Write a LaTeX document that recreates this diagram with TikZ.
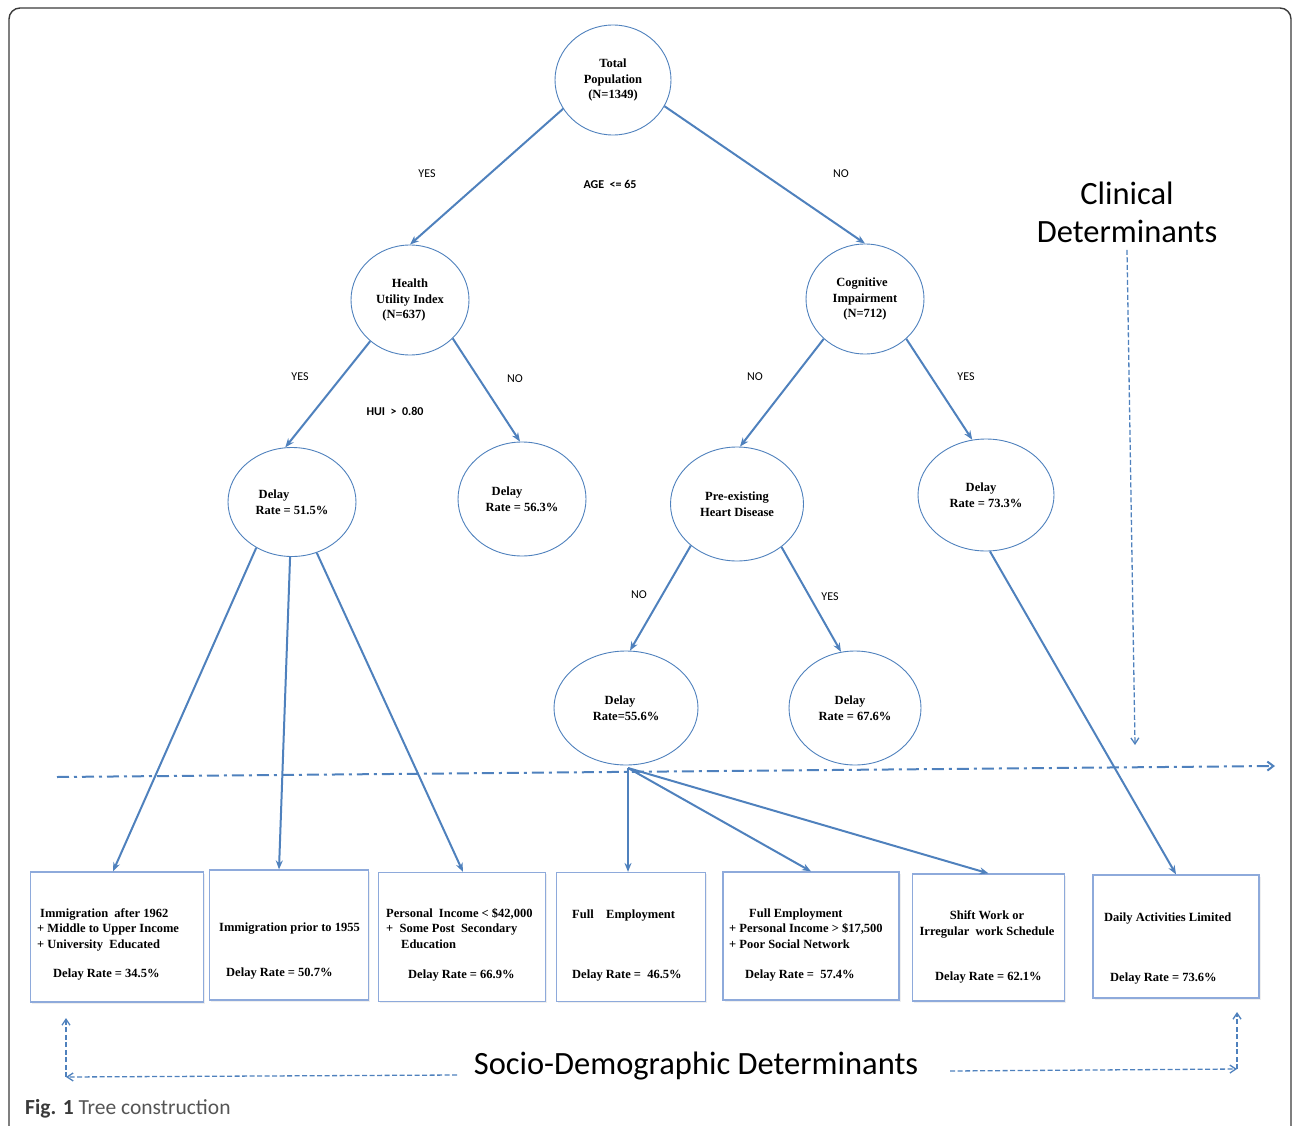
\documentclass[tikz,border=0pt]{standalone}
\usepackage{fontspec}
\usepackage{tikz}
\usetikzlibrary{arrows.meta,shapes.geometric,shadows}
\setmainfont{Liberation Serif}
\newfontfamily\calfont{Carlito}
\definecolor{treeblue}{HTML}{4F81BD}
\definecolor{boxblue}{HTML}{8EAADB}
\definecolor{framegray}{HTML}{3A3A3A}
\definecolor{captiongray}{HTML}{555555}
\tikzset{splitnode/.style={ellipse,draw=treeblue,fill=white,line width=.9pt,inner sep=0pt,
 align=center,font=\fontsize{12.5}{15.5}\selectfont\bfseries},
 sdbox/.style={rectangle,draw=boxblue,fill=white,line width=1.2pt,inner sep=0pt,
 drop shadow={shadow xshift=1.5pt,shadow yshift=-1.5pt,fill=black!12}},
 boxtext/.style={align=left,inner sep=0pt,font=\fontsize{12.5}{15.5}\selectfont\bfseries},
 branch/.style={draw=treeblue,line width=2pt,-{Stealth[length=9pt,width=7pt]}},
 answer/.style={font=\calfont\fontsize{12}{14}\selectfont},
 rule/.style={font=\calfont\bfseries\fontsize{12}{14}\selectfont},
 bigtext/.style={font=\calfont\fontsize{32.5}{38}\selectfont,align=center},
 guide/.style={draw=treeblue,line width=1.3pt,dash pattern=on 5pt off 2.5pt,
 -{Straight Barb[length=6pt,width=8pt]}},
 border/.style={draw=framegray,line width=1.4pt,rounded corners=11pt}}
\begin{document}
\begin{tikzpicture}[x=1pt,y=-1pt]
 \useasboundingbox (0,0) rectangle (1292,1126);
 \draw[border] (9,1140) -- (9,8) -- (1291,8) -- (1291,1140);
 % clinical part of the tree
 \node[splitnode,minimum width=116,minimum height=110] (total) at (613,80)
  {Total\\Population\\(N=1349)};
 \node[splitnode,minimum width=118,minimum height=110] (hui) at (410,300)
  {Health\\Utility Index\\(N=637)\hspace*{12pt}};
 \node[splitnode,minimum width=118,minimum height=110] (cog) at (865,299)
  {Cognitive\hspace*{6pt}\\Impairment\\(N=712)};
 \node[splitnode,minimum width=128,minimum height=109] (d515) at (292,502)
  {Delay\hspace*{36pt}\\Rate = 51.5\%};
 \node[splitnode,minimum width=128,minimum height=114] (d563) at (522,499)
  {Delay\hspace*{30pt}\\Rate = 56.3\%};
 \node[splitnode,minimum width=133,minimum height=114] (heart) at (737,504)
  {Pre-existing\\Heart Disease};
 \node[splitnode,minimum width=136,minimum height=112] (d733) at (986,495)
  {Delay\hspace*{10pt}\\Rate = 73.3\%};
 \node[splitnode,minimum width=144,minimum height=114] (d556) at (626,708)
  {Delay\hspace*{12pt}\\Rate=55.6\%};
 \node[splitnode,minimum width=132,minimum height=114] (d676) at (855,708)
  {Delay\hspace*{10pt}\\Rate = 67.6\%};
 \draw[branch] (total.210) -- (hui.north);
 \draw[branch] (total.333) -- (cog.north);
 \draw[branch] (hui.226) -- (d515.97);
 \draw[branch] (hui.318) -- (d563.92);
 \draw[branch] (cog.224) -- (heart.87);
 \draw[branch] (cog.316) -- (d733.104);
 \draw[branch] (heart.222) -- (d556.86);
 \draw[branch] (heart.316) -- (d676.104);
 \node[answer] (yes1) at (427,174) {YES};
 \node[rule] (age) at (610,184) {AGE\ \ <= 65};
 \node[answer] (no1) at (841,174) {NO};
 \node[answer] (yes2) at (300,377) {YES};
 \node[rule] (huirule) at (395,411) {HUI\ \ >\ \ 0.80};
 \node[answer] (no2) at (515,379) {NO};
 \node[answer] (no3) at (755,377) {NO};
 \node[answer] (yes3) at (966,377) {YES};
 \node[answer] (no4) at (639,595) {NO};
 \node[answer] (yes4) at (830,597) {YES};
 % socio-demographic boxes
 \node[sdbox,minimum width=173,minimum height=130] (imm62) at (117,937) {};
 \node[sdbox,minimum width=159,minimum height=130] (imm55) at (289,935) {};
 \node[sdbox,minimum width=167,minimum height=129] (income) at (462,937) {};
 \node[sdbox,minimum width=149,minimum height=129] (fullemp) at (631,937) {};
 \node[sdbox,minimum width=176,minimum height=128] (fullinc) at (811,936) {};
 \node[sdbox,minimum width=152,minimum height=127] (shift) at (988.5,937.5) {};
 \node[sdbox,minimum width=166,minimum height=123] (daily) at (1176,936.5) {};
 \node[boxtext,anchor=base west] (imm62a) at (37,948)
  {\hspace*{3pt}Immigration\ \ after 1962\\+ Middle to Upper Income\\+ University\ \ Educated};
 \node[boxtext,anchor=base west] (imm62b) at (53,977) {Delay Rate = 34.5\%};
 \node[boxtext,anchor=base west] (imm55a) at (219,931) {Immigration prior to 1955};
 \node[boxtext,anchor=base west] (imm55b) at (226,976) {Delay Rate = 50.7\%};
 \node[boxtext,anchor=base west] (incomea) at (386,948)
  {Personal\ \ Income < \$42,000\\+\ \ Some Post\ \ Secondary\\\hspace*{15pt}Education};
 \node[boxtext,anchor=base west] (incomeb) at (408,978) {Delay Rate = 66.9\%};
 \node[boxtext,anchor=base west] (fullempa) at (572,918) {Full\ \ \ \ Employment};
 \node[boxtext,anchor=base west] (fullempb) at (572,978) {Delay Rate =\ \ 46.5\%};
 \node[boxtext,anchor=base west] (fullinca) at (729,948)
  {\hspace*{20pt}Full Employment\\+ Personal Income > \$17,500\\+ Poor Social Network};
 \node[boxtext,anchor=base west] (fullincb) at (745,978) {Delay Rate =\ \ 57.4\%};
 \node[boxtext,align=center,anchor=base] (shifta) at (987,935)
  {Shift Work or\\Irregular\ \ work Schedule};
 \node[boxtext,anchor=base west] (shiftb) at (935,980) {Delay Rate = 62.1\%};
 \node[boxtext,anchor=base west] (dailya) at (1104,921) {Daily Activities Limited};
 \node[boxtext,anchor=base west] (dailyb) at (1110,981) {Delay Rate = 73.6\%};
 \coordinate (fan) at (628,768);
 \draw[branch] (d515.232) -- (imm62.north-|113,0);
 \draw[branch] (d515.268) -- (imm55.north-|279,0);
 \draw[branch] (d515.296) -- (income.north-|463,0);
 \draw[branch] (fan) -- (fan|-fullemp.north);
 \draw[branch] (fan) -- (fullinc.north);
 \draw[branch] (fan) -- (shift.north);
 \draw[branch] (d733.274) -- (daily.north);
 % split between the two groups
 \coordinate (splitl) at (57,777);
 \coordinate (splitr) at (1275,766);
 \draw[draw=treeblue,line width=2pt,dash pattern=on 12pt off 5pt on 3pt off 5pt,
  -{Straight Barb[length=6pt,width=9pt]}] (splitl) -- (splitr);
 \node[bigtext] (clinical) at (1127,212) {Clinical\\Determinants};
 \coordinate (clinend) at (1135,745);
 \draw[guide] (clinical.south) ++(0,4) coordinate (clinstart) -- (clinend);
 \node[bigtext] (socio) at (696,1066) {Socio-Demographic Determinants};
 \coordinate (sockl) at (66,1077);
 \coordinate (sockr) at (1237,1069);
 \draw[guide] (457,1075) coordinate (socwl) -- (sockl);
 \draw[guide] (sockl) -- (66,1018);
 \draw[guide] (950,1071) coordinate (socwr) -- (sockr);
 \draw[guide] (sockr) -- (1237,1012);
 \node[anchor=base west,inner sep=0pt,font=\calfont\fontsize{21.5}{24}\selectfont] (caption)
  at (25,1114) {\textcolor{framegray}{\bfseries Fig. 1} \textcolor{captiongray}{Tree construction}};
\end{tikzpicture}
\end{document}
